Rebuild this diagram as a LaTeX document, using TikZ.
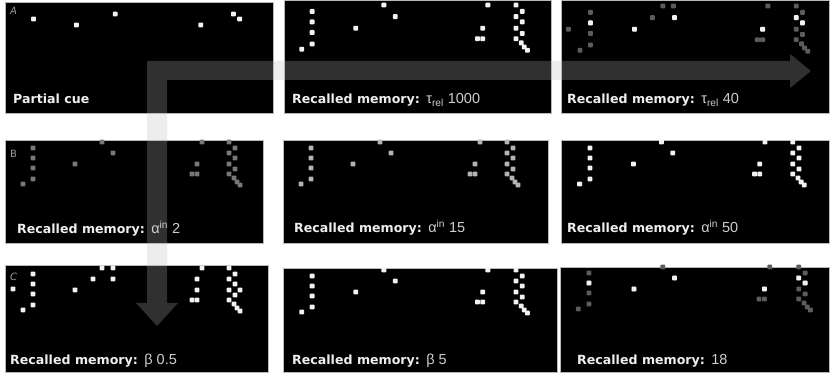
\documentclass[tikz,border=0pt]{standalone}
\usepackage{fontspec}
\setmainfont{DejaVu Sans}
\newfontfamily\valfont{Liberation Sans}
\usetikzlibrary{positioning}
\definecolor{pxon}{HTML}{F2F2F2}
\definecolor{pxdim}{HTML}{5C5C5C}
\definecolor{pxmid}{HTML}{787878}
\definecolor{pxlight}{HTML}{B4B4B4}
\definecolor{lbltext}{HTML}{EEEEEE}
\definecolor{valtext}{HTML}{CFCFCF}
\definecolor{tagtext}{HTML}{9A9A9A}
\newcommand{\mempat}{28/8,28/18,28/28,28/39,18/44,70/24,97/2,108/13,197/2,192/24,187/34,192/34,224/2,230/8,224/13,230/18,224/24,230/29,224/34,229/38,232/42,235/45}
\newcommand{\cuepat}{28/18,70/24,108/13,192/24,224/13,230/18}
\newcommand{\memdots}[6]{%
  \foreach \cx/\cy in #6 {\fill[#5,rounded corners=0.8pt] ({#1+#3*\cx-2.4},{#2+#4*\cy-2.4}) rectangle ++(4.8,4.8);}}
\begin{document}
\begin{tikzpicture}[x=1pt,y=-1pt,
  panel/.style={fill=black,draw=gray!55,line width=0.6pt},
  lbl/.style={anchor=base west,inner sep=0pt,text=lbltext,font=\bfseries\fontsize{12.6}{14}\selectfont},
  val/.style={anchor=base west,inner sep=0pt,text=valtext,font=\valfont\fontsize{14.5}{16}\selectfont},
  tag/.style={anchor=base west,inner sep=0pt,text=tagtext,font=\fontsize{10}{12}\selectfont},
  bigarrow/.style={fill=white!73!black,fill opacity=0.26}
]
\useasboundingbox (0,0) rectangle (831,374);
\fill[white] (0,0) rectangle (831,374);
\draw[panel] (5,2) rectangle (273,113);
\draw[panel] (284,0) rectangle (551,113);
\draw[panel] (561,0) rectangle (829,113);
\draw[panel] (5,140) rectangle (263,243);
\draw[panel] (283,140) rectangle (548,243);
\draw[panel] (561,140) rectangle (829,243);
\draw[panel] (5,265) rectangle (268,372);
\draw[panel] (283,268) rectangle (557,372);
\draw[panel] (560,267) rectangle (829,372);
\memdots{5}{1}{1.02}{1}{pxon}{\cuepat}
\memdots{283}{3}{1.04}{1.05}{pxon}{\mempat}
\memdots{561}{4}{1.05}{1.05}{pxdim}{\mempat}
\memdots{561}{4}{1.05}{1.05}{pxdim}{{7/24,87/13,107/2}}
\memdots{561}{4}{1.05}{1.05}{pxon}{\cuepat}
\memdots{5}{140}{1}{1}{pxmid}{\mempat}
\memdots{283}{140}{1}{1}{pxlight}{\mempat}
\memdots{561}{140}{1.035}{1}{pxon}{\mempat}
\memdots{5}{266}{1}{1}{pxon}{\mempat}
\memdots{5}{266}{1}{1}{pxon}{{8/23,88/13,108/2,192/13,235/24}}
\memdots{283}{268}{1.04}{1}{pxon}{\mempat}
\memdots{559}{265}{1.07}{1}{pxdim}{\mempat}
\memdots{559}{265}{1.07}{1}{pxon}{\cuepat}
\fill[bigarrow] (147,61) -- (790,61) -- (790,54) -- (811,71) -- (790,88) -- (790,80)
  -- (167,80) -- (167,303) -- (178,303) -- (157,326) -- (136,303) -- (147,303) -- cycle;
\node[tag,font=\itshape\fontsize{10}{12}\selectfont] (tagA) at (10,15) {A};
\node[tag] (tagB) at (10,158) {B};
\node[tag,font=\itshape\fontsize{10}{12}\selectfont] (tagC) at (10,281) {C};
\node[lbl] (cue) at (13,104) {Partial cue};
\node[lbl] (mem12) at (292,104) {Recalled memory:};
\node[val,right=6pt of mem12.base east,anchor=base west] (tau1000) {τ\textsubscript{rel} 1000};
\node[lbl] (mem13) at (567,104) {Recalled memory:};
\node[val,right=6pt of mem13.base east,anchor=base west] (tau40) {τ\textsubscript{rel} 40};
\node[lbl] (mem21) at (17,234) {Recalled memory:};
\node[val,right=6pt of mem21.base east,anchor=base west] (alpha2) {α\textsuperscript{in} 2};
\node[lbl] (mem22) at (294,233) {Recalled memory:};
\node[val,right=6pt of mem22.base east,anchor=base west] (alpha15) {α\textsuperscript{in} 15};
\node[lbl] (mem23) at (567,233) {Recalled memory:};
\node[val,right=6pt of mem23.base east,anchor=base west] (alpha50) {α\textsuperscript{in} 50};
\node[lbl] (mem31) at (10,365) {Recalled memory:};
\node[val,right=6pt of mem31.base east,anchor=base west] (beta05) {β 0.5};
\node[lbl] (mem32) at (292,365) {Recalled memory:};
\node[val,right=6pt of mem32.base east,anchor=base west] (beta5) {β 5};
\node[lbl] (mem33) at (577,365) {Recalled memory:};
\node[val,right=6pt of mem33.base east,anchor=base west] (last18) {18};
\end{tikzpicture}
\end{document}
